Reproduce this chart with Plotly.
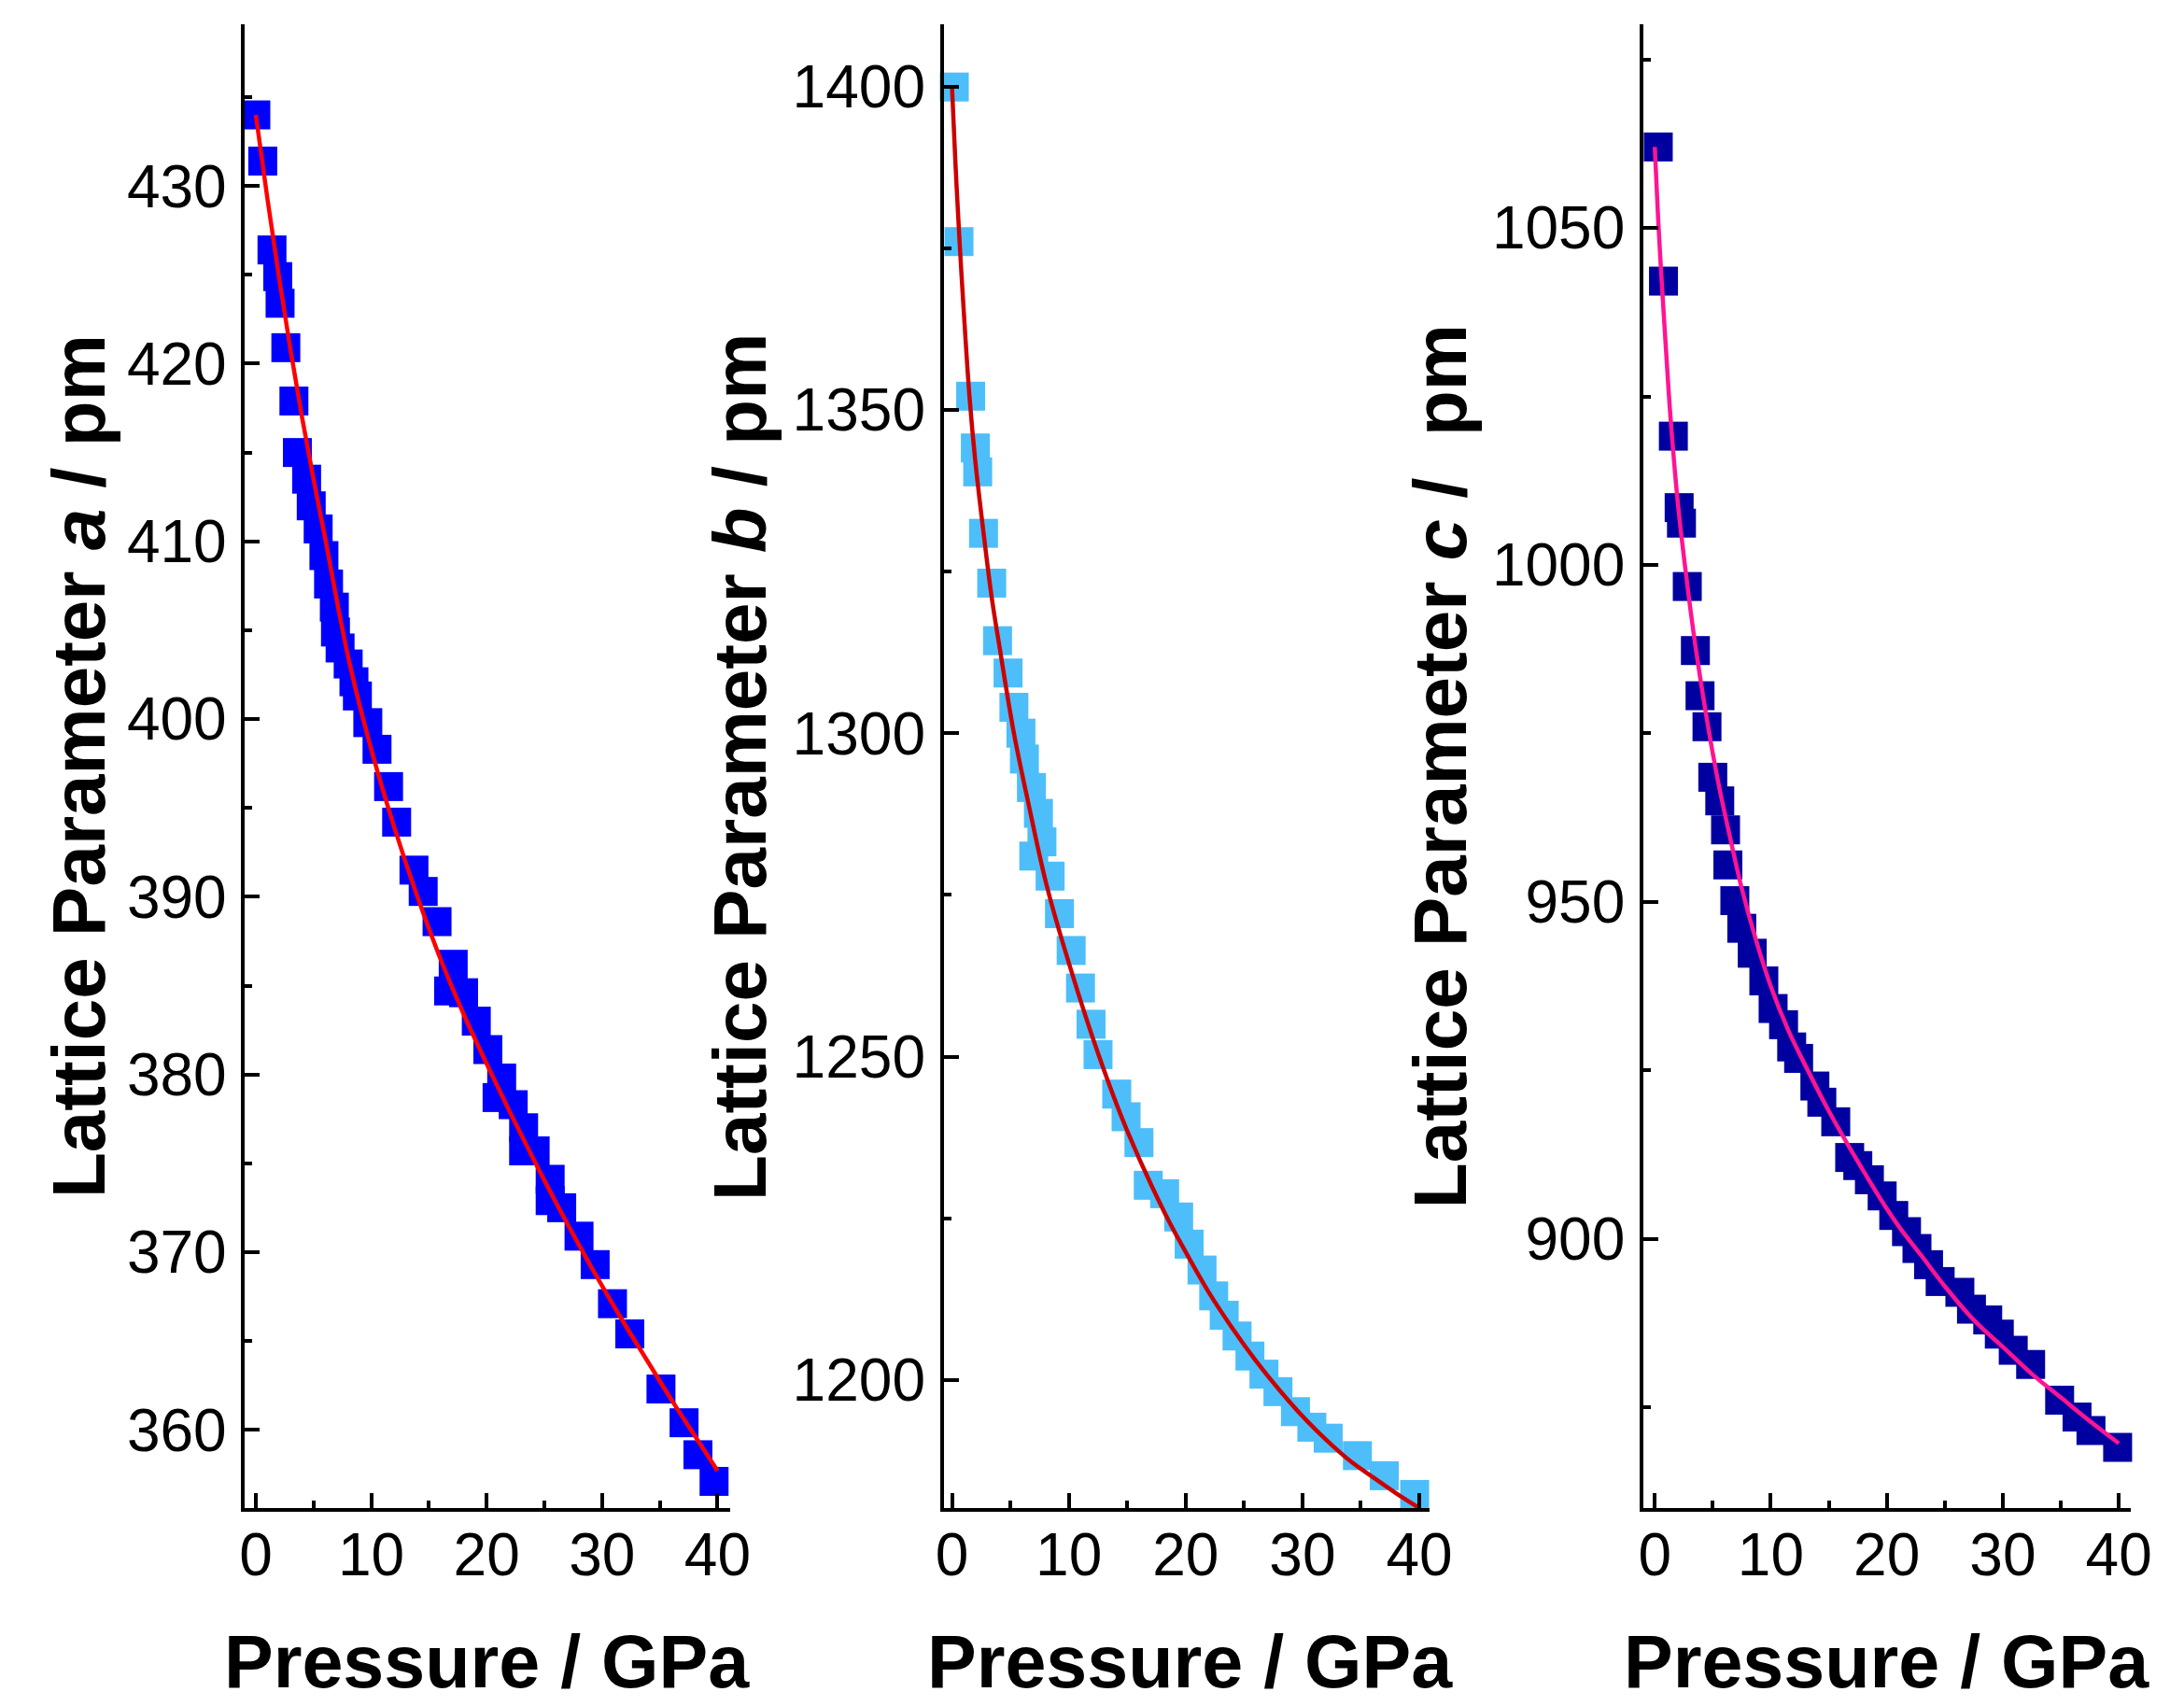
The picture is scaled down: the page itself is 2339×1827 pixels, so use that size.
import plotly.graph_objects as go

# pressure (GPa) and lattice parameters (pm)
p_a = [0.0, 0.6, 1.4, 1.9, 2.1, 2.6, 3.3, 3.6, 4.4, 4.8, 5.4, 5.9, 6.3, 6.8, 6.9, 7.3,
       8.0, 8.5, 8.8, 9.7, 10.5, 11.5, 12.2, 13.7, 14.5, 15.7, 17.1, 16.7, 18.0, 19.1,
       20.1, 20.9, 21.3, 22.3, 23.2, 23.2, 24.2, 25.5, 25.5, 26.5, 28.0, 29.4, 30.9,
       32.4, 35.1, 37.1, 38.3, 39.7]
a_pm = [434.0, 431.4, 426.4, 424.9, 423.4, 420.9, 417.9, 415.0, 413.5, 412.0, 410.7,
        409.2, 407.6, 406.3, 404.9, 404.0, 403.1, 402.1, 401.3, 399.8, 398.3, 396.2,
        394.2, 391.5, 390.3, 388.6, 386.2, 384.7, 384.6, 383.0, 381.4, 378.7, 379.8,
        378.3, 377.0, 375.7, 375.7, 374.1, 372.9, 372.5, 370.9, 369.3, 367.1, 365.4,
        362.3, 360.4, 358.6, 357.1]

p_b = [0.2, 0.6, 1.6, 2.0, 2.2, 2.7, 3.4, 3.9, 4.8, 5.3, 5.9, 6.2, 6.8, 7.0, 7.4, 7.7,
       8.4, 9.2, 10.2, 11.0, 11.9, 12.5, 14.1, 14.9, 16.0, 16.8, 18.2, 19.4, 20.3, 21.4,
       22.4, 23.3, 24.4, 25.5, 26.7, 27.9, 29.4, 30.8, 32.2, 34.7, 37.0, 39.6]
b_pm = [1399.9, 1376.0, 1352.1, 1344.1, 1340.4, 1330.9, 1323.2, 1314.3, 1309.3, 1304.0,
        1300.0, 1296.0, 1291.6, 1281.0, 1287.6, 1283.2, 1277.9, 1272.1, 1266.4, 1260.6,
        1255.0, 1250.3, 1244.2, 1240.7, 1236.7, 1230.1, 1228.8, 1225.2, 1221.0, 1217.0,
        1213.0, 1210.0, 1206.8, 1203.7, 1200.9, 1198.2, 1195.1, 1192.7, 1191.0, 1188.3,
        1185.2, 1182.3]

p_c = [0.3, 0.75, 1.6, 2.1, 2.3, 2.8, 3.5, 3.9, 4.5, 5.0, 5.6, 6.1, 6.3, 6.9, 7.5, 8.4,
       9.4, 10.2, 11.1, 11.8, 12.4, 13.8, 14.4, 15.6, 16.8, 17.5, 18.5, 19.6, 20.6, 21.7,
       22.6, 23.6, 24.6, 26.3, 27.3, 28.7, 29.7, 30.9, 32.4, 34.9, 36.4, 37.6, 39.9]
c_pm = [1062.0, 1042.1, 1019.1, 1008.5, 1006.2, 996.8, 987.3, 980.6, 976.0, 968.5, 965.0,
        960.7, 955.5, 950.2, 946.1, 942.4, 938.3, 934.2, 931.8, 928.5, 926.8, 922.7,
        920.3, 917.4, 912.1, 910.9, 908.8, 906.4, 903.5, 901.1, 898.6, 896.2, 893.7,
        892.1, 889.6, 888.0, 885.9, 883.5, 881.4, 876.1, 873.6, 871.6, 869.1]

# fitted EOS curves
fit_p_a = [0, 1, 2, 3, 4, 5, 6, 8, 10, 12, 14, 16, 18, 20, 22, 24, 26, 28, 30, 32, 34,
           36, 38, 40]
fit_a = [434.0, 429.3, 424.9, 420.8, 417.0, 413.5, 410.2, 403.5, 398.3, 393.9, 390.0,
         386.5, 383.4, 380.6, 377.9, 375.3, 372.8, 370.4, 368.1, 365.9, 363.8, 361.7,
         359.7, 357.7]

fit_p_b = [0, 0.3, 0.65, 1.0, 1.5, 2.0, 2.7, 3.4, 4.1, 5.3, 6.5, 8.1, 10, 12.6, 15, 18.3,
           20, 22, 24, 26, 28, 30, 32, 34, 36, 38, 40]
fit_b = [1400, 1388, 1376, 1365.5, 1352, 1342, 1331, 1321, 1313, 1300, 1289.5, 1276.5,
         1264.5, 1250, 1238.5, 1225.5, 1219.8, 1213.5, 1208, 1203, 1198.5, 1194.4,
         1190.8, 1187.6, 1185, 1182.5, 1180.2]

fit_p_c = [0, 0.3, 0.6, 1.0, 1.35, 2.0, 2.7, 3.5, 4.6, 5.5, 6.5, 7.5, 8.7, 10, 11.5,
           13.2, 15, 17.5, 20, 21.2, 23, 25, 27.5, 30, 32.5, 35, 37.5, 40]
fit_c = [1062, 1051, 1042, 1031, 1022, 1009, 998.5, 988, 976, 967.5, 959.5, 952, 944.5,
         937.5, 931, 925, 919, 911.5, 904.5, 901.5, 897.5, 893, 888, 884, 880, 876.5,
         873, 869.7]

W, H = 2339, 1827
FONT = "Liberation Sans, Arial, sans-serif"


def add_panel(fig, n, px, py, fx, fy, sq_color, line_color):
    '''
    squares for the measured points and a smooth line for the fit
    '''
    xa = 'x' if n == 1 else 'x%d' % n
    ya = 'y' if n == 1 else 'y%d' % n
    fig.add_trace(go.Scatter(x=px, y=py, mode='markers', xaxis=xa, yaxis=ya,
                             marker=dict(symbol='square', size=31, color=sq_color,
                                         line=dict(width=0)),
                             cliponaxis=False, showlegend=False))
    fig.add_trace(go.Scatter(x=fx, y=fy, mode='lines', xaxis=xa, yaxis=ya,
                             line=dict(color=line_color, width=4.5, shape='spline'),
                             showlegend=False))


def axis_style(rng, dtick, minor_dtick, domain, anchor, standoff):
    return dict(range=rng, domain=domain, anchor=anchor, dtick=dtick, tick0=0,
                showgrid=False, zeroline=False, showline=True, linecolor='black',
                linewidth=4, ticks='inside', ticklen=16, tickwidth=4,
                tickcolor='black', ticklabelstandoff=standoff,
                tickfont=dict(family=FONT, size=64, color='black'),
                minor=dict(dtick=minor_dtick, tick0=0, ticks='inside', ticklen=8,
                           tickwidth=4, tickcolor='black', showgrid=False))


fig = go.Figure()
add_panel(fig, 1, p_a, a_pm, fit_p_a, fit_a, '#0000FF', '#FF0000')
add_panel(fig, 2, p_b, b_pm, fit_p_b, fit_b, '#4DBEFA', '#CC0000')
add_panel(fig, 3, p_c, c_pm, fit_p_c, fit_c, '#0000A0', '#FF1493')

ydom = [220 / H, 1809 / H]
xdoms = [[249 / W, 776 / W], [1008 / W, 1536 / W], [1768 / W, 2297 / W]]

fig.update_layout(
    width=W, height=H, plot_bgcolor='white', paper_bgcolor='white',
    margin=dict(l=0, r=0, t=0, b=0),
    xaxis=axis_style([-0.93, 41.1], 10, 5, xdoms[0], 'y', -9),
    yaxis=axis_style([355.6, 439.1], 10, 5, ydom, 'x', 3),
    xaxis2=axis_style([-0.7, 40.9], 10, 5, xdoms[1], 'y2', -9),
    yaxis2=axis_style([1180.2, 1409.6], 50, 25, ydom, 'x2', 3),
    xaxis3=axis_style([-0.98, 41.0], 10, 5, xdoms[2], 'y3', -9),
    yaxis3=axis_style([860.1, 1080.2], 50, 25, ydom, 'x3', 3),
)

# axis titles
ytitles = ['Lattice Parameter <i>a</i> / pm', 'Lattice Parameter <i>b</i> / pm',
           'Lattice Parameter <i>c</i> /&nbsp; pm']
ytitle_x = [68, 786, 1547]
xtitle_x = [512, 1275, 2032]
for i in range(0, 3):
    fig.add_annotation(text='<b>' + ytitles[i] + '</b>', x=ytitle_x[i] / W, y=1 - 813 / H,
                       xref='paper', yref='paper', textangle=-90, showarrow=False,
                       xanchor='center', yanchor='middle',
                       font=dict(family=FONT, size=80, color='black'))
    fig.add_annotation(text='<b>Pressure / GPa</b>', x=xtitle_x[i] / W, y=1 - 1771 / H,
                       xref='paper', yref='paper', showarrow=False,
                       xanchor='center', yanchor='middle',
                       font=dict(family=FONT, size=79, color='black'))

fig.write_html("out.html")
